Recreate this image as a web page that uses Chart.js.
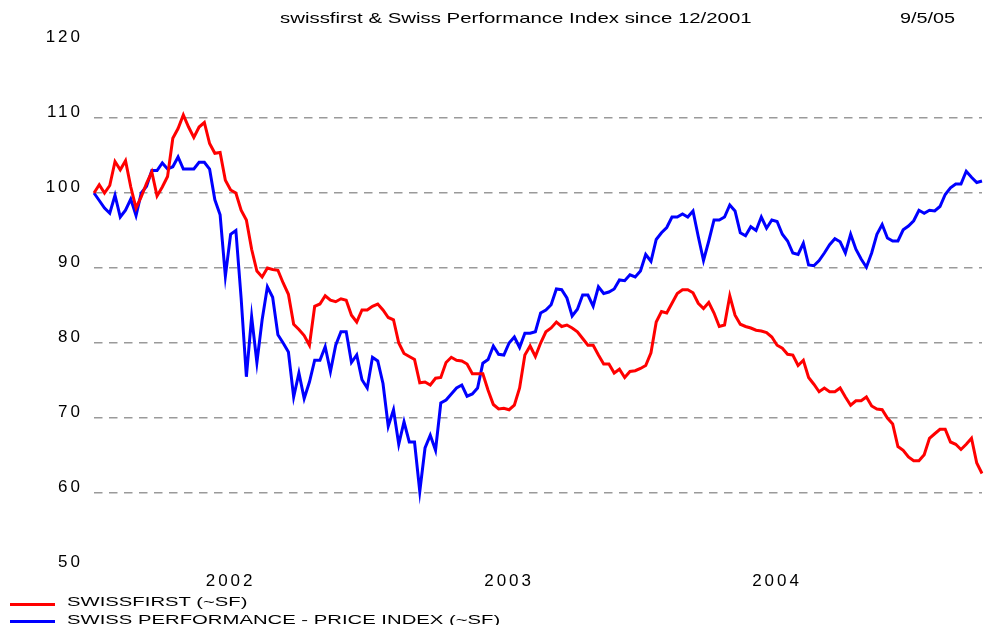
<!DOCTYPE html>
<html>
<head>
<meta charset="utf-8">
<script src="https://cdn.jsdelivr.net/npm/chart.js@4"></script>
<style>
  body { margin: 0; background: #fff; }
  #wrap { position: relative; width: 985px; height: 625px; overflow: hidden; }
  canvas { position: absolute; left: 0; top: 0; }
  .txt { position: absolute; font-family: "Liberation Sans", Arial, sans-serif; color: #000; white-space: nowrap; transform-origin: 0 50%; line-height: 1; }
  .key { position: absolute; left: 10px; width: 45px; height: 3px; }
</style>
</head>
<body>
<div id="wrap">
  <canvas id="myChart" width="985" height="625"></canvas>
  <div class="txt" id="title" style="left:280px; top:10px; font-size:15px; transform:scaleX(1.36);">swissfirst &amp; Swiss Performance Index since 12/2001</div>
  <div class="txt" style="left:900px; top:10px; font-size:15px; transform:scaleX(1.32);">9/5/05</div>
  <div class="key" style="top:603px; background:#ff0000;"></div>
  <div class="txt" style="left:67px; top:595px; font-size:13px; transform:scaleX(1.56);">SWISSFIRST (~SF)</div>
  <div class="key" style="top:620px; background:#0000ff;"></div>
  <div class="txt" style="left:67px; top:613px; font-size:13px; transform:scaleX(1.56);">SWISS PERFORMANCE - PRICE INDEX (~SF)</div>
</div>
<script>
// weekly values, indexed to 100 at 12/2001
const swissfirst = [
  100, 101.1, 100, 101, 104.2, 103.1, 104.3, 100.8, 98, 99.5,
  101.3, 102.8, 99.6, 100.8, 102.2, 107.3, 108.6, 110.4, 108.8, 107.4,
  108.8, 109.4, 106.6, 105.3, 105.4, 101.7, 100.4, 100, 97.7, 96.4,
  92.5, 89.6, 88.8, 90, 89.8, 89.7, 88, 86.5, 82.5, 81.8,
  81, 79.7, 84.9, 85.2, 86.3, 85.7, 85.5, 85.9, 85.7, 83.7,
  82.8, 84.4, 84.4, 84.9, 85.2, 84.4, 83.4, 83.1, 80, 78.6,
  78.2, 77.8, 74.7, 74.8, 74.4, 75.3, 75.4, 77.4, 78.1, 77.7,
  77.6, 77.2, 75.9, 75.9, 75.9, 73.7, 71.8, 71.2, 71.3, 71.1,
  71.7, 74, 78.4, 79.6, 78.2, 80, 81.5, 82, 82.8, 82.2,
  82.4, 82, 81.5, 80.6, 79.7, 79.7, 78.4, 77.2, 77.2, 76,
  76.5, 75.4, 76.2, 76.3, 76.6, 77, 78.7, 82.8, 84.2, 84,
  85.3, 86.6, 87.1, 87.1, 86.7, 85.3, 84.6, 85.4, 84, 82.2,
  82.4, 86.3, 83.7, 82.5, 82.2, 82, 81.7, 81.6, 81.4, 80.8,
  79.7, 79.3, 78.5, 78.4, 77, 77.7, 75.4, 74.5, 73.5, 74,
  73.5, 73.5, 74, 72.8, 71.7, 72.3, 72.3, 72.8, 71.6, 71.2,
  71.1, 70, 69.2, 66.2, 65.7, 64.8, 64.3, 64.3, 65.1, 67.3,
  67.9, 68.5, 68.5, 66.8, 66.5, 65.8, 66.5, 67.3, 64, 62.6
];
const spi = [
  100, 99, 98, 97.3, 99.7, 96.8, 97.7, 99.2, 97, 100,
  100.9, 103, 103, 104, 103.2, 103.5, 104.8, 103.2, 103.2, 103.2,
  104.1, 104.1, 103.2, 99.1, 97.1, 88.9, 94.5, 95, 86, 75.5,
  83.5, 77.4, 83.1, 87.5, 86.1, 81.1, 80, 78.8, 72.8, 76,
  72.6, 74.8, 77.7, 77.7, 79.5, 76.2, 79.7, 81.5, 81.5, 77.4,
  78.4, 75.1, 74, 78.1, 77.6, 74.6, 68.9, 71.1, 66.5, 69.5,
  66.8, 66.8, 60.2, 66, 67.7, 65.7, 72, 72.4, 73.2, 74,
  74.4, 72.9, 73.2, 74, 77.3, 77.8, 79.6, 78.5, 78.4, 80,
  80.8, 79.4, 81.3, 81.3, 81.5, 84, 84.4, 85.1, 87.2, 87.1,
  86, 83.6, 84.5, 86.4, 86.4, 84.9, 87.5, 86.6, 86.8, 87.2,
  88.4, 88.3, 89.1, 88.8, 89.6, 91.8, 90.9, 93.8, 94.7, 95.4,
  96.8, 96.8, 97.2, 96.8, 97.6, 94.2, 91, 93.6, 96.4, 96.4,
  96.8, 98.4, 97.6, 94.7, 94.3, 95.5, 95, 96.8, 95.3, 96.4,
  96.2, 94.5, 93.6, 92, 91.8, 93.3, 90.4, 90.3, 91, 92,
  93.1, 93.9, 93.5, 92, 94.5, 92.5, 91.2, 90.1, 92, 94.5,
  95.8, 94, 93.6, 93.6, 95.1, 95.6, 96.3, 97.7, 97.3, 97.7,
  97.6, 98.2, 99.8, 100.7, 101.2, 101.2, 102.9, 102.1, 101.4, 101.6
];
const weeks = swissfirst.map((v, i) => i);
const yearLabels = ['2002', '2003', '2004'];
const yearWeeks = [26, 79, 130];
const yTicks = [50, 60, 70, 80, 90, 100, 110, 120];

// the original axis font is drawn wide, spread the glyphs a bit
const wideText = {
  id: 'wideText',
  beforeDraw(chart) { chart.ctx.letterSpacing = '3px'; },
  afterDraw(chart) { chart.ctx.letterSpacing = '0px'; }
};

const ctx = document.getElementById('myChart').getContext('2d');
const mychart = new Chart(ctx, {
  type: 'line',
  data: {
    labels: weeks,
    datasets: [
      { label: 'SWISSFIRST (~SF)', data: swissfirst, borderColor: '#ff0000', borderWidth: 3, pointRadius: 0, tension: 0 },
      { label: 'SWISS PERFORMANCE - PRICE INDEX (~SF)', data: spi, borderColor: '#0000ff', borderWidth: 3, pointRadius: 0, tension: 0 }
    ]
  },
  options: {
    responsive: false,
    animation: false,
    layout: { padding: { top: 43, right: 0, bottom: 0, left: 0 } },
    plugins: { legend: { display: false }, title: { display: false }, tooltip: { enabled: false } },
    scales: {
      x: {
        type: 'category',
        offset: false,
        grid: { display: false, drawTicks: false },
        border: { display: false },
        afterFit: s => { s.height = 57; },
        ticks: {
          autoSkip: false, maxRotation: 0, padding: 3, color: '#000',
          font: { family: 'Liberation Sans', size: 17 },
          callback: (v, i) => { const k = yearWeeks.indexOf(i); return k >= 0 ? yearLabels[k] : ''; }
        }
      },
      y: {
        min: 50, max: 120,
        afterBuildTicks: s => { s.ticks = yTicks.map(v => ({ value: v })); },
        afterFit: s => { s.width = 94; },
        grid: {
          drawTicks: false,
          lineWidth: 1.5,
          color: c => (c.tick && (c.tick.value === 50 || c.tick.value === 120)) ? 'rgba(0,0,0,0)' : '#9a9a9a'
        },
        border: { display: false, dash: [8.5, 6.5] },
        ticks: {
          padding: 11, labelOffset: -6, color: '#000',
          font: { family: 'Liberation Sans', size: 17 }
        }
      }
    }
  },
  plugins: [wideText]
});
</script>
</body>
</html>
